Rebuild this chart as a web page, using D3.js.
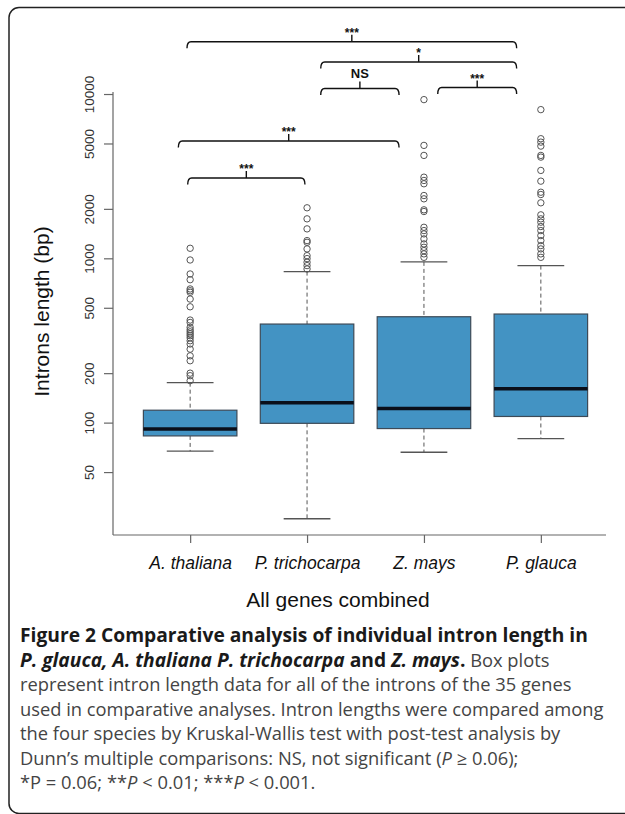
<!DOCTYPE html>
<html>
<head lang="en">
    <meta charset="UTF-8">
    <title>Intron length</title>
    <script src="https://d3js.org/d3.v7.min.js"></script>
    <style>
        body{ margin:0; background:#fff; }
        svg{ display:block; }
        .tick text{ font-family:"Liberation Sans", Arial, sans-serif; }
    </style>
</head>
<body>
<div class="part1">
    <svg width="625" height="814"></svg>
</div>
</body>
</html>
<script>
    // box plot summary per species (bp)
    var species = ["A. thaliana", "P. trichocarpa", "Z. mays", "P. glauca"];
    var lowerWhisker = [67, 26, 66, 80];
    var q1 = [83, 99, 92, 109];
    var medians = [91.5, 132, 122, 161];
    var q3 = [119, 398, 441, 458];
    var upperWhisker = [175, 830, 951, 903];
    var outliers = [
        [180, 193, 200, 238, 255, 280, 301, 315, 328, 338, 347, 357, 367, 380, 407, 421, 507, 565, 621, 635, 651, 741, 803, 977, 1151],
        [861, 903, 946, 996, 1038, 1141, 1252, 1282, 1511, 1739, 2030],
        [1014, 1064, 1114, 1167, 1224, 1313, 1408, 1475, 1545, 1927, 1973, 2302, 2411, 2843, 2977, 3118, 4230, 4868, 9245],
        [1014, 1064, 1141, 1195, 1282, 1375, 1475, 1561, 1659, 1739, 1839, 2177, 2445, 2525, 2949, 3427, 4130, 4230, 4819, 5096, 5346, 8035]
    ];
    var yTicks = [50, 100, 200, 500, 1000, 2000, 5000, 10000];

    // significance brackets (x in group units, level in bp)
    var bracketFrom = [0.973, 2.117, 2.117, 3.118, 0.899, 0.979];
    var bracketTo = [3.793, 3.793, 2.787, 3.793, 2.787, 1.982];
    var bracketLevel = [20800, 15670, 10800, 10950, 5176, 3083];
    var bracketLabel = ["***", "*", "NS", "***", "***", "***"];

    var captionLines = [
        [{t: "Figure 2 Comparative analysis of individual intron length in", b: 1}],
        [{t: "P. glauca, A. thaliana P. trichocarpa", b: 1, i: 1}, {t: " and ", b: 1}, {t: "Z. mays", b: 1, i: 1}, {t: ".", b: 1}, {t: " Box plots"}],
        [{t: "represent intron length data for all of the introns of the 35 genes"}],
        [{t: "used in comparative analyses. Intron lengths were compared among"}],
        [{t: "the four species by Kruskal-Wallis test with post-test analysis by"}],
        [{t: "Dunn\u2019s multiple comparisons: NS, not significant ("}, {t: "P", i: 1}, {t: " \u2265 0.06);"}],
        [{t: "*P = 0.06; **"}, {t: "P", i: 1}, {t: " < 0.01; ***"}, {t: "P", i: 1}, {t: " < 0.001."}]
    ];

    window.onload = function () {
        var svg = d3.select(".part1 svg");
        var plot = {left: 113, right: 618, top: 82, bottom: 535};

        var xScale = d3.scaleLinear()
                .domain([0.34, 4.66])
                .range([plot.left, plot.right]);
        var yScale = d3.scaleLog()
                .domain([20.7, 11835])
                .range([plot.bottom, plot.top]);

        // rounded frame around the figure
        svg.append("rect")
                .attr("x", 9).attr("y", 7.5)
                .attr("width", 660).attr("height", 806)
                .attr("rx", 10).attr("ry", 10)
                .style("fill", "none")
                .style("stroke", "#222")
                .style("stroke-width", 1.5);

        drawAxis();
        drawBoxes();
        drawBrackets();
        drawCaption();

        function drawAxis() {
            var g = svg.append("g");
            // L shaped frame
            g.append("line")
                    .attr("x1", plot.left).attr("x2", plot.left)
                    .attr("y1", yScale(10000) - 2).attr("y2", plot.bottom)
                    .style("stroke", "#666").style("stroke-width", 1.2);
            g.append("line")
                    .attr("x1", plot.left).attr("x2", 606)
                    .attr("y1", plot.bottom).attr("y2", plot.bottom)
                    .style("stroke", "#666").style("stroke-width", 1.2);

            var yAxis = d3.axisLeft(yScale)
                    .tickValues(yTicks)
                    .tickSize(9)
                    .tickFormat(d3.format("d"));
            var ay = g.append("g").attr("transform", "translate(" + plot.left + ",0)").call(yAxis);
            ay.select(".domain").remove();
            ay.selectAll(".tick line").style("stroke", "#666").style("stroke-width", 1.2);
            ay.selectAll(".tick text")
                    .attr("x", 0).attr("y", 0).attr("dy", null)
                    .attr("transform", "translate(-19.5,0) rotate(-90)")
                    .style("text-anchor", "middle")
                    .style("font-size", "13.5px")
                    .style("fill", "#333");

            var xAxis = d3.axisBottom(xScale)
                    .tickValues([1, 2, 3, 4])
                    .tickSize(8)
                    .tickFormat(function (d) { return species[d - 1]; });
            var ax = g.append("g").attr("transform", "translate(0," + plot.bottom + ")").call(xAxis);
            ax.select(".domain").remove();
            ax.selectAll(".tick line").style("stroke", "#666").style("stroke-width", 1.2);
            ax.selectAll(".tick text")
                    .attr("y", 28).attr("dy", "0.35em")
                    .style("font-size", "17.5px")
                    .style("font-style", "italic")
                    .style("fill", "#111");

            svg.append("text")
                    .attr("transform", "translate(49," + ((plot.top + plot.bottom) / 2 + 3) + ") rotate(-90)")
                    .style("text-anchor", "middle")
                    .style("font-family", "'Liberation Sans', Arial, sans-serif")
                    .style("font-size", "21px")
                    .style("fill", "#111")
                    .text("Introns length (bp)");
            svg.append("text")
                    .attr("x", 338).attr("y", 607)
                    .style("text-anchor", "middle")
                    .style("font-family", "'Liberation Sans', Arial, sans-serif")
                    .style("font-size", "21px")
                    .style("fill", "#111")
                    .text("All genes combined");
        }

        function drawBoxes() {
            var half = 0.4, capHalf = 0.2;
            var groups = svg.append("g")
                    .selectAll(".box")
                    .data(species)
                    .enter()
                    .append("g")
                    .attr("class", "box");

            // dashed whiskers
            groups.append("line")
                    .attr("x1", function (d, i) { return xScale(i + 1); })
                    .attr("x2", function (d, i) { return xScale(i + 1); })
                    .attr("y1", function (d, i) { return yScale(upperWhisker[i]); })
                    .attr("y2", function (d, i) { return yScale(q3[i]); })
                    .style("stroke", "#555").style("stroke-dasharray", "4,3");
            groups.append("line")
                    .attr("x1", function (d, i) { return xScale(i + 1); })
                    .attr("x2", function (d, i) { return xScale(i + 1); })
                    .attr("y1", function (d, i) { return yScale(q1[i]); })
                    .attr("y2", function (d, i) { return yScale(lowerWhisker[i]); })
                    .style("stroke", "#555").style("stroke-dasharray", "4,3");
            // caps
            [upperWhisker, lowerWhisker].forEach(function (arr) {
                groups.append("line")
                        .attr("x1", function (d, i) { return xScale(i + 1 - capHalf); })
                        .attr("x2", function (d, i) { return xScale(i + 1 + capHalf); })
                        .attr("y1", function (d, i) { return yScale(arr[i]); })
                        .attr("y2", function (d, i) { return yScale(arr[i]); })
                        .style("stroke", "#555").style("stroke-width", 1.3);
            });
            groups.append("rect")
                    .attr("x", function (d, i) { return xScale(i + 1 - half); })
                    .attr("width", xScale(1 + half) - xScale(1 - half))
                    .attr("y", function (d, i) { return yScale(q3[i]); })
                    .attr("height", function (d, i) { return yScale(q1[i]) - yScale(q3[i]); })
                    .style("fill", "#4393c3")
                    .style("stroke", "#3d4a57")
                    .style("stroke-width", 1.2);
            groups.append("line")
                    .attr("x1", function (d, i) { return xScale(i + 1 - half); })
                    .attr("x2", function (d, i) { return xScale(i + 1 + half); })
                    .attr("y1", function (d, i) { return yScale(medians[i]); })
                    .attr("y2", function (d, i) { return yScale(medians[i]); })
                    .style("stroke", "#0a0f1a").style("stroke-width", 3.5);
            groups.selectAll(".point")
                    .data(function (d, i) { return outliers[i].map(function (v) { return {g: i + 1, v: v}; }); })
                    .enter()
                    .append("circle")
                    .attr("class", "point")
                    .attr("cx", function (d) { return xScale(d.g); })
                    .attr("cy", function (d) { return yScale(d.v); })
                    .attr("r", 3.2)
                    .style("fill", "none")
                    .style("stroke", "#555")
                    .style("stroke-width", 1);
        }

        function drawBrackets() {
            var g = svg.append("g");
            bracketLabel.forEach(function (lab, i) {
                var x1 = xScale(bracketFrom[i]), x2 = xScale(bracketTo[i]);
                var y = yScale(bracketLevel[i]), cx = (x1 + x2) / 2;
                var p = d3.path();
                p.moveTo(x1, y + 6.5);
                p.quadraticCurveTo(x1, y, x1 + 4, y);
                p.lineTo(x2 - 4, y);
                p.quadraticCurveTo(x2, y, x2, y + 6.5);
                p.moveTo(cx, y);
                p.lineTo(cx, y - 7);
                g.append("path")
                        .attr("d", p.toString())
                        .style("fill", "none")
                        .style("stroke", "#111")
                        .style("stroke-width", 1.4);
                var ns = lab === "NS";
                g.append("text")
                        .attr("x", cx)
                        .attr("y", ns ? y - 10.5 : y - 5)
                        .style("text-anchor", "middle")
                        .style("font-family", "'Liberation Sans', Arial, sans-serif")
                        .style("font-weight", "bold")
                        .style("font-size", ns ? "13px" : "12px")
                        .style("fill", "#111")
                        .text(lab);
            });
        }

        function drawCaption() {
            var family = "'Open Sans', 'Noto Sans', sans-serif";
            // fit the font size so that the longest line ends where the original does
            var probe = svg.append("text")
                    .style("font-family", family)
                    .style("font-size", "17px")
                    .text(captionLines[3][0].t);
            var fs = 17 * 584 / probe.node().getComputedTextLength();
            probe.remove();

            var cap = svg.append("g");
            captionLines.forEach(function (segs, k) {
                var t = cap.append("text")
                        .attr("x", 20)
                        .attr("y", 642 + k * 24.5)
                        .style("font-family", family)
                        .style("font-size", fs + "px");
                segs.forEach(function (s) {
                    t.append("tspan")
                            .style("font-weight", s.b ? "bold" : "normal")
                            .style("font-style", s.i ? "italic" : "normal")
                            .style("font-size", s.b ? (fs * 1.05) + "px" : null)
                            .style("fill", s.b ? "#1a1a1a" : "#444")
                            .text(s.t);
                });
            });
        }
    };
</script>
